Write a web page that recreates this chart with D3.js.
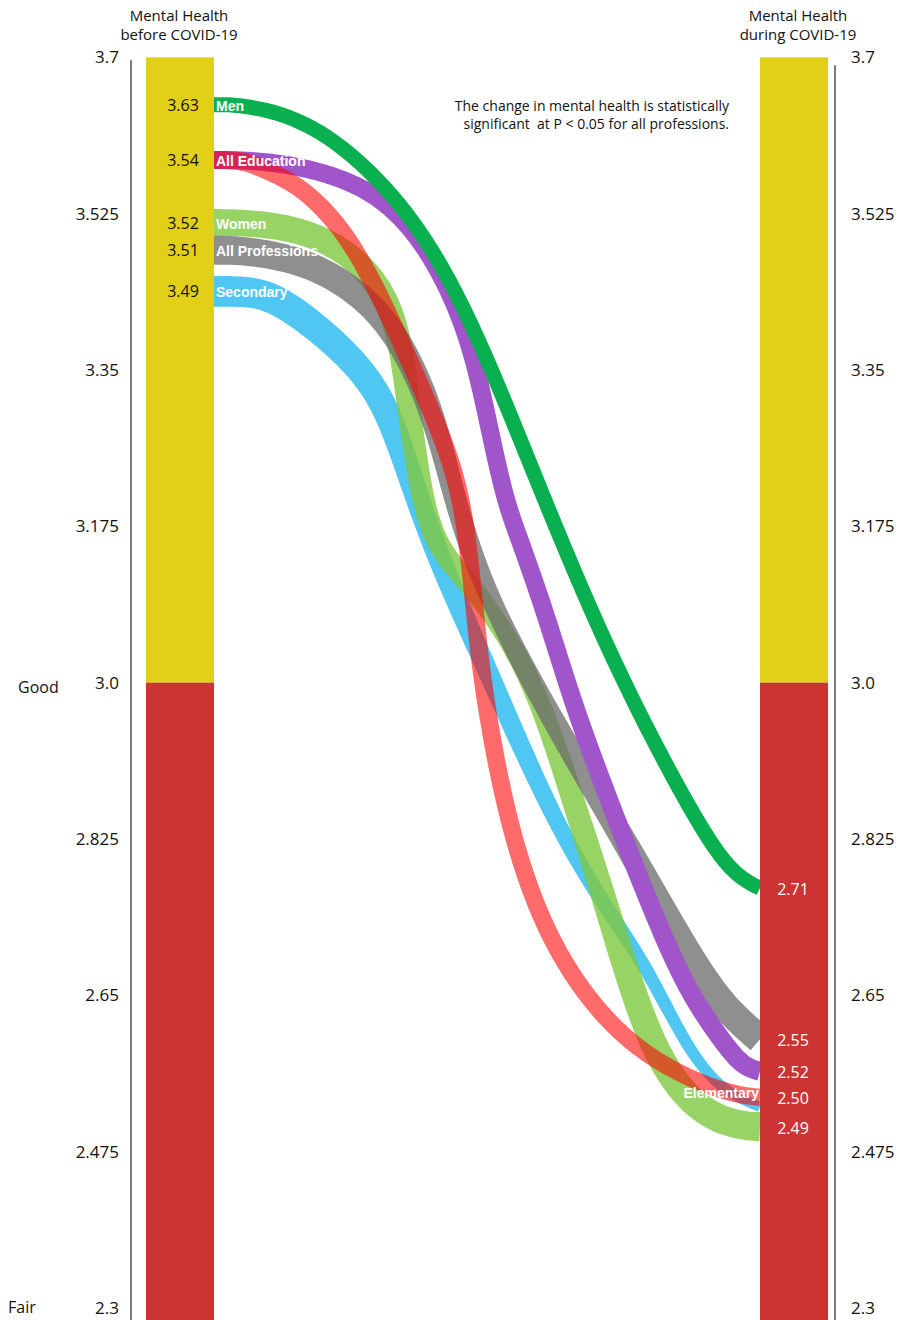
<!DOCTYPE html>
<html><head><meta charset="utf-8">
<script src="https://cdn.jsdelivr.net/npm/d3@7"></script>
<style>
body{margin:0;background:#fff;}
svg{display:block;}
</style></head>
<body>
<svg id="chart" width="900" height="1320"></svg>
<script>
// ---------------- DATA ----------------
const tickValues = [3.7, 3.525, 3.35, 3.175, 3.0, 2.825, 2.65, 2.475, 2.3];
const tickLabels = ["3.7", "3.525", "3.35", "3.175", "3.0", "2.825", "2.65", "2.475", "2.3"];
const categoryNames = ["Good", "Fair"];
const categoryValues = [3.0, 2.3];
const threshold = 3.0;

// draw order (bottom to top)
const series = ["Secondary", "Women", "All Professions", "All Education", "Elementary", "Men"];
const startLabels = ["3.49", "3.52", "3.51", "3.54", "", "3.63"];
const endLabels = ["", "2.49", "2.55", "2.52", "2.50", "2.71"];
const nameSide = ["left", "left", "left", "left", "right", "left"];

// each path: [progress % from the "before" bar to the "during" bar]
const secondaryPath = [[0,3.438],[5,3.438],[11,3.434],[21.8,3.384],[30.4,3.328],[35.0,3.249],[40.8,3.141],[51.1,3.000],[61.9,2.850],[70.7,2.757],[79.3,2.682],[86.3,2.594],[92.7,2.544],[100,2.525]];
const womenPath = [[0,3.515],[6,3.515],[15.75,3.508],[24.9,3.482],[31.3,3.437],[34.1,3.384],[35.5,3.316],[37.0,3.249],[38.8,3.188],[41.6,3.145],[47.8,3.104],[54.2,3.048],[59.7,2.981],[65.2,2.880],[70.7,2.774],[76.2,2.662],[81.7,2.572],[89.0,2.519],[96,2.504],[100,2.503]];
const allProfessionsPath = [[0,3.484],[6,3.484],[17.6,3.471],[27.7,3.432],[34.1,3.384],[40.1,3.305],[44.1,3.204],[48.7,3.115],[57.9,3.003],[67.0,2.906],[76.2,2.813],[85.3,2.712],[92.7,2.639],[100,2.601]];
const allEducationPath = [[0,3.585],[6,3.585],[15.75,3.579],[28.6,3.555],[37.7,3.501],[44.1,3.428],[47.8,3.361],[50.5,3.283],[53.3,3.204],[56.0,3.160],[61.0,3.073],[66.1,2.969],[74.4,2.835],[81.7,2.723],[87.2,2.650],[93.6,2.594],[97,2.570],[100,2.565]];
const elementaryPath = [[0,3.585],[5,3.585],[8.4,3.577],[15.75,3.557],[23.1,3.512],[28.6,3.456],[34.1,3.384],[41.4,3.283],[45.1,3.216],[46.9,3.137],[48.4,3.037],[50.5,2.947],[54.2,2.835],[59.7,2.734],[67.0,2.656],[76.2,2.594],[87.2,2.555],[96,2.538],[100,2.536]];
const menPath = [[0,3.647],[6,3.647],[19.4,3.626],[35.9,3.532],[47.6,3.403],[59.7,3.216],[71.2,3.048],[81.7,2.919],[91.4,2.813],[96.3,2.781],[100,2.770]];
const paths = [secondaryPath, womenPath, allProfessionsPath, allEducationPath, elementaryPath, menPath];

// ---------------- STYLE ----------------
const bandColors = ["#50c6f3", "#7ec83e", "#6a6a6a", "#a155ca", "#ff0000", "#0aaf4f"];
const bandOpacity = [1, 0.8, 0.75, 1, 0.58, 1];
const bandWidths = [[31,20,10],[27,20,29],[29,20,29],[18,18,19],[18,18,17],[15,15,15]];
const FONT = "'Open Sans', 'Noto Sans', sans-serif";
const LABELFONT = "'Liberation Sans', Arial, sans-serif";

// ---------------- LAYOUT ----------------
const W = 900, H = 1320;
const barW = 68;
const leftBarX = 146, rightBarX = 760;
const svg = d3.select("#chart");

const y = d3.scaleLinear().domain([2.3, 3.7]).range([1308, 57.3]);
const x = d3.scaleLinear().domain([0, 100]).range([leftBarX + barW, rightBarX]);

// ---------------- RIBBONS ----------------
const lineGen = d3.line().x(d => x(d[0])).y(d => y(d[1])).curve(d3.curveBasis);
function ribbon(pts, widths) {
  const tmp = svg.append("path").attr("d", lineGen(pts)).attr("fill", "none");
  const node = tmp.node();
  const L = node.getTotalLength();
  const N = 400;
  const P = d3.range(N + 1).map(i => node.getPointAtLength(L * i / N));
  tmp.remove();
  const wf = d3.piecewise(d3.interpolateNumber, widths);
  const A = [], B = [];
  for (let i = 0; i <= N; i++) {
    const p0 = P[Math.max(0, i - 1)], p1 = P[Math.min(N, i + 1)];
    const dx = p1.x - p0.x, dy = p1.y - p0.y;
    const len = Math.hypot(dx, dy) || 1;
    const nx = -dy / len, ny = dx / len;
    const w = wf(i / N) / 2;
    A.push([P[i].x + nx * w, P[i].y + ny * w]);
    B.push([P[i].x - nx * w, P[i].y - ny * w]);
  }
  B.reverse();
  return "M" + A.map(p => p.join(",")).join("L") + "L" + B.map(p => p.join(",")).join("L") + "Z";
}

const gBands = svg.append("g");
series.forEach((s, i) => {
  gBands.append("path")
    .attr("d", ribbon(paths[i], bandWidths[i]))
    .attr("fill", bandColors[i])
    .attr("fill-opacity", bandOpacity[i]);
});

// ---------------- BARS ----------------
const barTop = y(3.7);
[leftBarX, rightBarX].forEach(bx => {
  svg.append("rect").attr("x", bx).attr("y", barTop).attr("width", barW)
    .attr("height", y(threshold) - barTop).attr("fill", "#e2d018");
  svg.append("rect").attr("x", bx).attr("y", y(threshold)).attr("width", barW)
    .attr("height", H - y(threshold)).attr("fill", "#cc3333");
});

// ---------------- AXES ----------------
const axisL = d3.axisLeft(y).tickValues(tickValues).tickSize(0).tickPadding(12)
  .tickFormat((d, i) => tickLabels[i]);
const axisR = d3.axisRight(y).tickValues(tickValues).tickSize(0).tickPadding(16)
  .tickFormat((d, i) => tickLabels[i]);
const gL = svg.append("g").attr("transform", "translate(131,0)").call(axisL);
const gR = svg.append("g").attr("transform", "translate(835,0)").call(axisR);
[gL, gR].forEach(g => {
  g.select(".domain").remove();
  g.selectAll("text").attr("font-family", FONT).attr("font-size", 17).attr("fill", "#111");
});
svg.append("line").attr("x1", 131).attr("x2", 131).attr("y1", y(3.7) + 3).attr("y2", H)
  .attr("stroke", "#333").attr("stroke-width", 1.3);
svg.append("line").attr("x1", 835).attr("x2", 835).attr("y1", y(3.7) + 8).attr("y2", H)
  .attr("stroke", "#333").attr("stroke-width", 1.3);

categoryNames.forEach((t, i) => {
  svg.append("text").attr("x", i === 0 ? 18 : 8).attr("y", y(categoryValues[i]) + (i === 0 ? 4 : -1))
    .attr("dominant-baseline", "central")
    .attr("font-family", FONT).attr("font-size", 16).attr("fill", "#111").text(t);
});

// ---------------- HEADERS ----------------
const headerLines = [["Mental Health", "before COVID-19"], ["Mental Health", "during COVID-19"]];
[leftBarX + barW / 2 - 1, rightBarX + barW / 2 + 4].forEach((cx, j) => {
  headerLines[j].forEach((t, k) => {
    svg.append("text").attr("x", cx).attr("y", 21 + k * 19).attr("text-anchor", "middle")
      .attr("font-family", FONT).attr("font-size", 15).attr("fill", "#111").text(t);
  });
});

// annotation
const note = ["The change in mental health is statistically", "significant  at P < 0.05 for all professions."];
note.forEach((t, k) => {
  svg.append("text").attr("x", 729).attr("y", 111 + k * 18).attr("text-anchor", "end")
    .style("white-space", "pre")
    .attr("font-family", FONT).attr("font-size", 14).attr("fill", "#111").text(t);
});

// ---------------- LABELS ----------------
series.forEach((s, i) => {
  const p = paths[i];
  const y0 = y(p[0][1]), y1 = y(p[p.length - 1][1]);
  if (startLabels[i]) {
    svg.append("text").attr("x", leftBarX + barW / 2 + 3).attr("y", y0)
      .attr("text-anchor", "middle").attr("dominant-baseline", "central")
      .attr("font-family", FONT).attr("font-size", 16).attr("fill", "#111").text(startLabels[i]);
  }
  if (endLabels[i]) {
    svg.append("text").attr("x", rightBarX + barW / 2 - 1).attr("y", y1 + 1)
      .attr("text-anchor", "middle").attr("dominant-baseline", "central")
      .attr("font-family", FONT).attr("font-size", 16).attr("fill", "#fff").text(endLabels[i]);
  }
  if (nameSide[i] === "left") {
    svg.append("text").attr("x", leftBarX + barW + 2).attr("y", y0 + 1)
      .attr("dominant-baseline", "central")
      .attr("font-family", LABELFONT).attr("font-weight", "bold").attr("font-size", 14)
      .attr("fill", "#fff").text(s);
  } else {
    svg.append("text").attr("x", rightBarX - 1).attr("y", y1 - 4)
      .attr("text-anchor", "end").attr("dominant-baseline", "central")
      .attr("font-family", LABELFONT).attr("font-weight", "bold").attr("font-size", 14)
      .attr("fill", "#fff").text(s);
  }
});
</script>
</body></html>
